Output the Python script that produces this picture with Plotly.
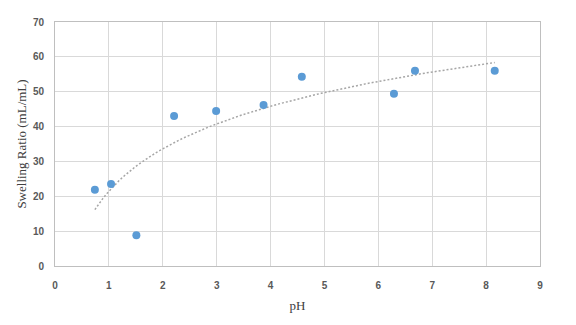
import numpy as np
import plotly.graph_objects as go

ph = [0.74, 1.04, 1.51, 2.21, 2.99, 3.87, 4.58, 6.29, 6.68, 8.16]
swelling = [21.9, 23.5, 8.8, 43.0, 44.5, 46.2, 54.3, 49.4, 56.0, 56.0]
x_ticks = [0, 1, 2, 3, 4, 5, 6, 7, 8, 9]
y_ticks = [0, 10, 20, 30, 40, 50, 60, 70]

# logarithmic trendline fitted to the data
b, a = np.polyfit(np.log(ph), swelling, 1)
tx = np.linspace(min(ph), max(ph), 100)
ty = a + b * np.log(tx)

fig = go.Figure()
fig.add_trace(go.Scatter(x=tx, y=ty, mode="lines",
                         line=dict(color="#a6a6a6", width=1.5, dash="2px,2px"),
                         hoverinfo="skip", showlegend=False))
fig.add_trace(go.Scatter(x=ph, y=swelling, mode="markers",
                         marker=dict(color="#5b9bd5", size=8),
                         showlegend=False))

tickfont = dict(family="Liberation Sans", size=10, color="#595959", weight="bold")
titlefont = dict(family="Liberation Serif", size=13, color="#404040")
fig.update_layout(
    width=576, height=325,
    margin=dict(l=55, r=36, t=22, b=59),
    paper_bgcolor="white", plot_bgcolor="white",
    xaxis=dict(range=[0, 9], tickvals=x_ticks, showgrid=True, gridcolor="#d9d9d9",
               gridwidth=1, zeroline=False, showline=True, linecolor="#bfbfbf",
               mirror=True, tickfont=tickfont, ticks="", ticklabelstandoff=10,
               title=dict(text="pH", font=titlefont, standoff=10)),
    yaxis=dict(range=[0, 70], tickvals=y_ticks, showgrid=True, gridcolor="#d9d9d9",
               gridwidth=1, zeroline=False, showline=True, linecolor="#bfbfbf",
               mirror=True, tickfont=tickfont, ticks="", ticklabelstandoff=8,
               title=dict(text="Swelling Ratio (mL/mL)", font=titlefont, standoff=3)),
)
fig.write_html("out.html")
